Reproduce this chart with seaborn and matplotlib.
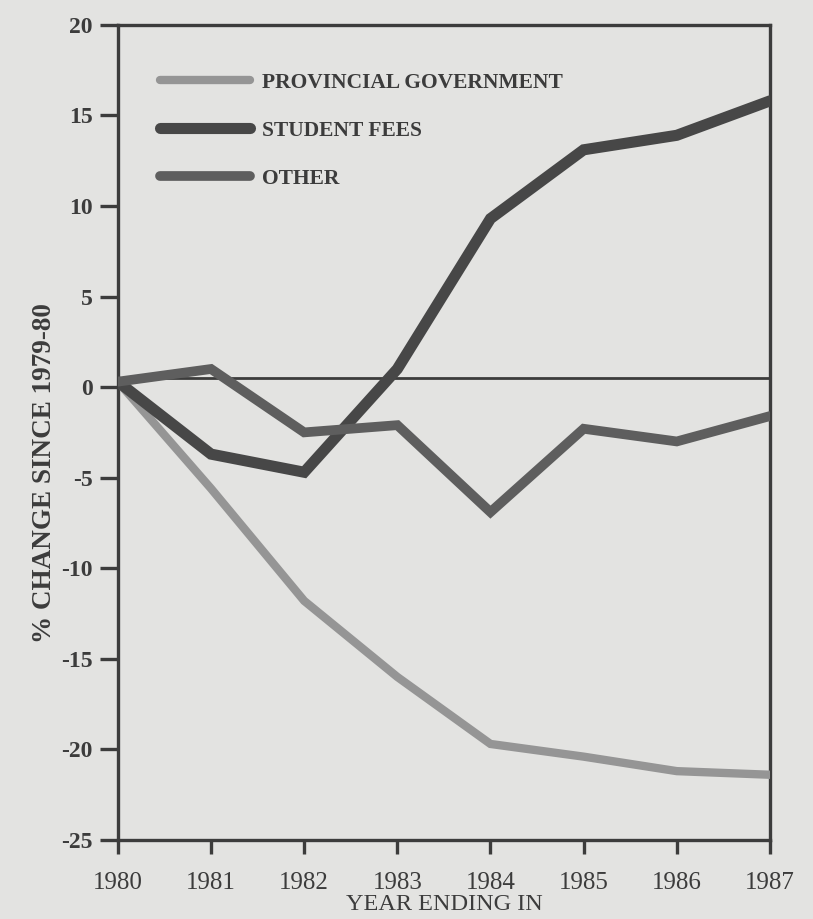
import numpy as np
import pandas as pd
import matplotlib
matplotlib.use("Agg")
import matplotlib.pyplot as plt
import seaborn as sns

# values
years = [1980, 1981, 1982, 1983, 1984, 1985, 1986, 1987]
provincial = [0.3, -5.6, -11.8, -16.0, -19.7, -20.4, -21.2, -21.4]
student_fees = [0.3, -3.7, -4.7, 1.0, 9.3, 13.1, 13.9, 15.8]
other = [0.3, 1.0, -2.5, -2.1, -6.9, -2.3, -3.0, -1.6]
series_names = ['PROVINCIAL GOVERNMENT', 'STUDENT FEES', 'OTHER']
y_ticks = [20, 15, 10, 5, 0, -5, -10, -15, -20, -25]

df = pd.DataFrame({
    'year': years * 3,
    'change': provincial + student_fees + other,
    'source': [series_names[0]] * len(years) + [series_names[1]] * len(years) + [series_names[2]] * len(years),
})

sns.set_style('ticks')
plt.rcParams['font.family'] = ['Liberation Serif', 'DejaVu Serif']

bg = '#e3e3e1'
ink = '#3c3c3c'
palette = {series_names[0]: '#959595', series_names[1]: '#474747', series_names[2]: '#5e5e5e'}
widths = {series_names[0]: 6.0, series_names[1]: 8.0, series_names[2]: 7.0}

fig = plt.figure(figsize=(8.13, 9.19), dpi=100, facecolor=bg)
ax = fig.add_axes([0.145, 0.086, 0.802, 0.887])
ax.set_facecolor(bg)

# zero reference line
ax.axhline(0.5, color=ink, linewidth=2, zorder=1)

sns.lineplot(data=df, x='year', y='change', hue='source', palette=palette,
             hue_order=series_names, ax=ax, zorder=3)

for line, name in zip(ax.lines[1:], series_names):
    line.set_linewidth(widths[name])
    line.set_solid_capstyle('round')
    line.set_solid_joinstyle('miter')

ax.set_xlim(1980, 1987)
ax.set_ylim(-25, 20)
ax.set_xticks(years)
ax.set_yticks(y_ticks)
ax.set_xticklabels([str(y) for y in years], fontsize=18)
ax.set_yticklabels([str(t) for t in y_ticks], fontsize=17, fontweight='bold')

for side in ['top', 'right', 'bottom', 'left']:
    ax.spines[side].set_visible(True)
    ax.spines[side].set_linewidth(2.4)
    ax.spines[side].set_color(ink)

ax.tick_params(axis='y', direction='out', length=13, width=2.4, color=ink, labelcolor=ink, pad=5)
ax.tick_params(axis='x', direction='out', length=10, width=2.4, color=ink, labelcolor=ink, pad=13)

ax.set_xlabel('YEAR ENDING IN', fontsize=17.5, color=ink, labelpad=0)
ax.set_ylabel('% CHANGE SINCE 1979-80', fontsize=19.5, fontweight='bold', color=ink)
ax.yaxis.set_label_coords(-0.094, 0.45)

handles, labels = ax.get_legend_handles_labels()
for h in handles:
    h.set_linewidth(widths[h.get_label()])
leg = ax.legend(handles, labels, loc='upper left', bbox_to_anchor=(0.035, 0.965),
                frameon=False, handlelength=4.2, handletextpad=0.55, labelspacing=1.3,
                prop={'family': 'Liberation Serif', 'weight': 'bold', 'size': 15.5})
for t in leg.get_texts():
    t.set_color(ink)

fig.savefig('out.png', dpi=100, facecolor=bg)
